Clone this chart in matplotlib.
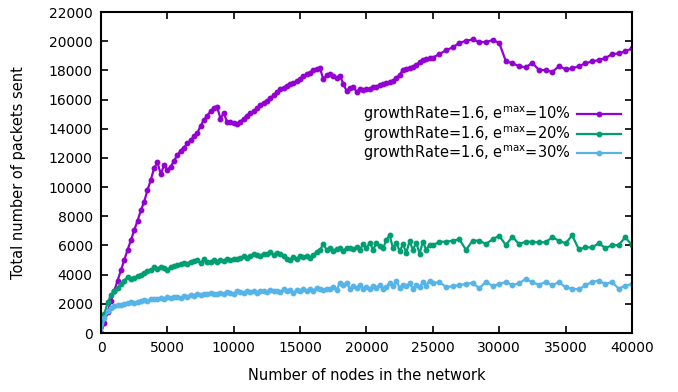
import numpy as np
import matplotlib
matplotlib.use("Agg")
import matplotlib.pyplot as plt

# x: dense part every 250 up to 24750, then every 500 up to 40000
x_dense = np.arange(0, 25000, 250)
x_sparse = np.arange(25000, 40001, 500)

purple_dense = [0, 700, 1450, 2200, 2900, 3600, 4300, 5000, 5700, 6350,
                7050, 7700, 8400, 9000, 9800, 10500, 11300, 11700, 10900, 11500,
                11200, 11400, 11800, 12200, 12500, 12700, 13000, 13200, 13500, 13700,
                14200, 14600, 14900, 15200, 15400, 15500, 14700, 15100, 14450, 14500,
                14400, 14350, 14500, 14700, 14900, 15100, 15200, 15400, 15600, 15800,
                15900, 16100, 16300, 16500, 16700, 16800, 16950, 17100, 17150, 17250,
                17400, 17600, 17750, 17850, 18000, 18100, 18150, 17400, 17700, 17750,
                17600, 17500, 17650, 17100, 16600, 16800, 16900, 16550, 16700, 16650,
                16700, 16750, 16850, 16900, 17000, 17100, 17150, 17200, 17300, 17500,
                17700, 18050, 18100, 18150, 18250, 18400, 18550, 18700, 18800, 18850]
purple_sparse = [18890, 19120, 19400, 19580, 19900, 20030, 20130, 19950, 19950, 20080,
                 19900, 18640, 18490, 18300, 18210, 18530, 18030, 18030, 17890, 18300,
                 18090, 18140, 18300, 18490, 18620, 18710, 18850, 19120, 19170, 19310,
                 19510]

green_dense = [0, 1300, 2100, 2600, 2900, 3100, 3350, 3600, 3850, 3700,
               3750, 3900, 4000, 4100, 4250, 4300, 4500, 4400, 4550, 4450,
               4350, 4500, 4600, 4650, 4700, 4800, 4750, 4900, 4950, 5000,
               4800, 5050, 4900, 4850, 5000, 4900, 5000, 4950, 5050, 5000,
               5100, 5050, 5150, 5250, 5150, 5300, 5400, 5350, 5250, 5450,
               5400, 5550, 5350, 5500, 5450, 5300, 5050, 5000, 5200, 5100,
               5250, 5200, 5300, 5150, 5350, 5550, 5700, 6100, 5700, 5850,
               5650, 5750, 5800, 5600, 5850, 5800, 5750, 5900, 5700, 6100,
               5800, 6200, 5700, 6150, 5950, 5800, 6400, 6700, 5800, 6200,
               5600, 6100, 5500, 6300, 5700, 6200, 5450, 6250, 5700, 6050]
green_sparse = [6000, 6260, 6260, 6330, 6420, 5700, 6330, 6330, 6100, 6420,
                6670, 6030, 6600, 6100, 6260, 6260, 6210, 6230, 6560, 6330,
                6150, 6690, 5740, 5870, 5870, 6150, 5830, 6010, 6030, 6560,
                6030]

blue_dense = [0, 1000, 1500, 1700, 1850, 1900, 1950, 2000, 2050, 2100,
              2050, 2150, 2200, 2250, 2200, 2300, 2350, 2300, 2400, 2350,
              2450, 2400, 2450, 2500, 2400, 2550, 2500, 2600, 2550, 2650,
              2600, 2700, 2650, 2750, 2700, 2650, 2750, 2700, 2800, 2750,
              2700, 2850, 2800, 2750, 2850, 2800, 2900, 2750, 2850, 2900,
              2800, 2950, 2850, 2900, 2800, 3000, 2850, 2950, 2750, 2950,
              2900, 3000, 2850, 3050, 2900, 3100, 3000, 2950, 3050, 3000,
              3150, 2950, 3450, 3300, 3400, 3050, 3200, 3100, 3300, 3000,
              3150, 3050, 3200, 3100, 3300, 3050, 3150, 3450, 3200, 3550,
              3100, 3300, 3200, 3400, 3050, 3300, 3150, 3500, 3250, 3600]
blue_sparse = [3400, 3500, 3150, 3200, 3300, 3350, 3450, 3060, 3520, 3220,
               3360, 3500, 3290, 3400, 3720, 3470, 3310, 3500, 3270, 3500,
               3130, 3040, 2990, 3270, 3500, 3590, 3360, 3500, 3040, 3240,
               3360]

labels = ["growthRate=1.6, e$^{\\mathrm{max}}$=10%",
          "growthRate=1.6, e$^{\\mathrm{max}}$=20%",
          "growthRate=1.6, e$^{\\mathrm{max}}$=30%"]
colors = ["#9400d3", "#009e73", "#56b4e9"]

x = np.concatenate([x_dense, x_sparse])
series = [purple_dense + purple_sparse, green_dense + green_sparse, blue_dense + blue_sparse]

fig = plt.figure(figsize=(6.78, 3.92), dpi=100)
ax = fig.add_axes([0.149, 0.1505, 0.783, 0.8185])

for y, c, lab in zip(series, colors, labels):
    ax.plot(x, y, color=c, lw=1.6, marker="o", ms=3.2, label=lab)

ax.set_xlim(0, 40000)
ax.set_ylim(0, 22000)
ax.set_xticks(np.arange(0, 40001, 5000))
ax.set_yticks(np.arange(0, 22001, 2000))
ax.tick_params(direction="in", top=True, right=True, length=5, width=1.2, labelsize=10, pad=6)
for s in ax.spines.values():
    s.set_linewidth(1.5)

ax.set_xlabel("Number of nodes in the network", fontsize=10.5, labelpad=9)
ax.set_ylabel("Total number of packets sent", fontsize=10.5, labelpad=16)

ax.legend(loc="upper right", bbox_to_anchor=(0.99, 0.73), frameon=False, markerfirst=False,
          fontsize=10.5, handlelength=3.0, labelspacing=0.0, borderaxespad=0, handletextpad=0.45)

fig.savefig("out.png", dpi=100)
